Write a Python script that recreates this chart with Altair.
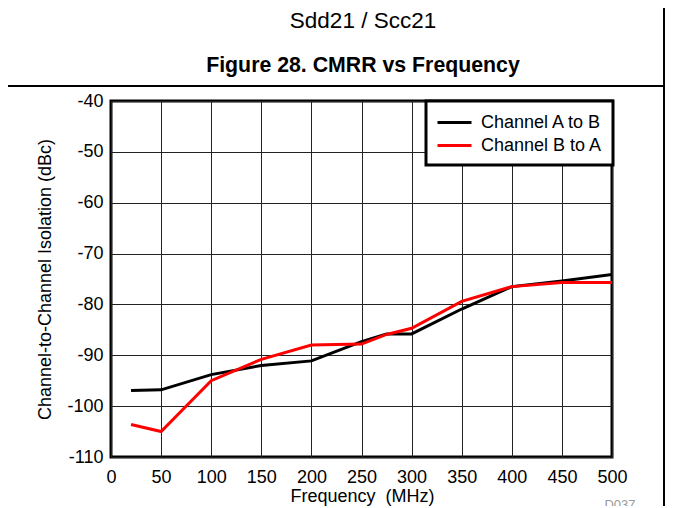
import altair as alt
import pandas as pd

freq = [20, 50, 100, 150, 200, 250, 275, 300, 350, 400, 450, 500]
a_to_b = [-96.9, -96.8, -93.8, -92.0, -91.1, -87.3, -85.8, -85.8, -80.9, -76.5, -75.4, -74.1]
b_to_a = [-103.6, -105.0, -95.0, -90.8, -88.0, -87.8, -85.9, -84.7, -79.4, -76.5, -75.7, -75.7]
series_names = ["Channel A to B", "Channel B to A"]
series_colors = ["#000000", "#ff0000"]
x_ticks = [0, 50, 100, 150, 200, 250, 300, 350, 400, 450, 500]
y_ticks = [-110, -100, -90, -80, -70, -60, -50, -40]

rows = []
for name, vals in zip(series_names, [a_to_b, b_to_a]):
    for f, v in zip(freq, vals):
        rows.append({"freq": f, "val": v, "series": name})
df = pd.DataFrame(rows)

FONT = "Liberation Sans"
W, H = 501, 356

lines = alt.Chart(df).mark_line(strokeWidth=3, clip=True).encode(
    x=alt.X("freq:Q", scale=alt.Scale(domain=[0, 500], nice=False, zero=False),
            axis=alt.Axis(values=x_ticks, title="Frequency\u00a0 (MHz)", labelFontSize=18,
                          titleFontSize=18, titleFontWeight="normal", labelPadding=11,
                          labelFlush=False, labelExpr="'' + datum.value",
                          titleX=251, titleY=39, titleBaseline="middle")),
    y=alt.Y("val:Q", scale=alt.Scale(domain=[-110, -40], nice=False, zero=False),
            axis=alt.Axis(values=y_ticks, title="Channel-to-Channel Isolation (dBc)",
                          labelFontSize=18, titleFontSize=18, titleFontWeight="normal",
                          labelPadding=8, titleAngle=-90, titleX=-66, titleY=178,
                          labelExpr="'' + datum.value",
                          titleBaseline="middle", titleAlign="center")),
    color=alt.Color("series:N", scale=alt.Scale(domain=series_names, range=series_colors),
                    legend=alt.Legend(title=None, orient="none", legendX=315, legendY=0,
                                      symbolType="M-1.7,0H1.7", symbolStrokeWidth=3,
                                      symbolSize=400, symbolOffset=7,
                                      labelFontSize=18, strokeColor="#000000",
                                      fillColor="#ffffff", padding=10, rowPadding=2,
                                      labelOffset=15)),
)

titles = pd.DataFrame({"t": ["Sdd21 / Scc21"]})
sub = alt.Chart(titles).mark_text(font=FONT, fontSize=22.5, align="center", baseline="middle").encode(
    text="t:N", x=alt.value(252), y=alt.value(-80))
fig = pd.DataFrame({"t": ["Figure 28. CMRR vs Frequency"]})
figt = alt.Chart(fig).mark_text(font=FONT, fontSize=21.3, fontWeight="bold", align="center",
                                baseline="middle").encode(
    text="t:N", x=alt.value(252), y=alt.value(-35))
code = pd.DataFrame({"t": ["D037"]})
codet = alt.Chart(code).mark_text(font=FONT, fontSize=13, color="#999999", align="center",
                                  baseline="top").encode(
    text="t:N", x=alt.value(509), y=alt.value(398))
hrule = alt.Chart(titles).mark_rule(color="#000000", strokeWidth=2).encode(
    x=alt.value(-103), x2=alt.value(554), y=alt.value(-15))
vrule = alt.Chart(titles).mark_rule(color="#000000", strokeWidth=2).encode(
    x=alt.value(553), y=alt.value(-93), y2=alt.value(410))

chart = alt.layer(lines, sub, figt, codet, hrule, vrule).properties(
    width=W, height=H,
    autosize=alt.AutoSizeParams(type="none"),
    padding={"left": 103, "top": 93, "right": 53, "bottom": 49},
).configure(font=FONT).configure_view(
    stroke="#000000", strokeWidth=3
).configure_axis(
    grid=True, gridColor="#222222", gridWidth=1, gridOpacity=1, domain=False, ticks=False,
    labelColor="#000000", titleColor="#000000", labelFont=FONT, titleFont=FONT
).configure_legend(
    strokeWidth=3, labelFont=FONT, labelColor="#000000"
)

chart.save("out.html", embed_options={"renderer": "svg", "actions": False})
